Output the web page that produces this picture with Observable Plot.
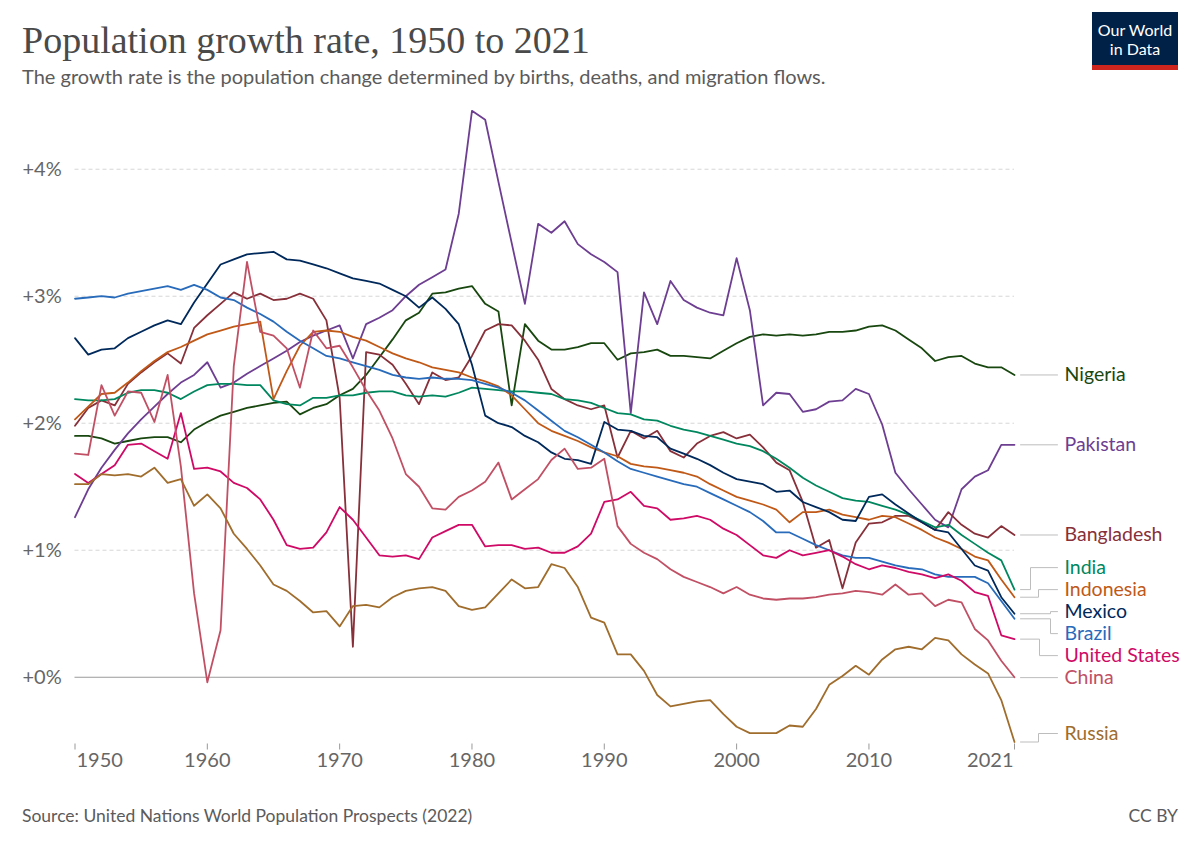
<!DOCTYPE html>
<html>
<head>
<meta charset="utf-8">
<script src="https://cdn.jsdelivr.net/npm/d3@7"></script>
<script src="https://cdn.jsdelivr.net/npm/@observablehq/plot@0.6"></script>
<style>
  html, body { margin: 0; padding: 0; background: #fff; }
  #page { position: relative; width: 1200px; height: 848px; overflow: hidden; font-family: Lato, "Noto Sans", sans-serif; }
  #header { position: relative; height: 100px; }
  #title { position: absolute; left: 22px; top: 21px; font-family: "Liberation Serif", serif; font-size: 38px; line-height: 38px; color: #4a4a4a; white-space: nowrap; }
  #subtitle { position: absolute; left: 22px; top: 66px; font-size: 20px; line-height: 20px; color: #5b5b5b; white-space: nowrap; }
  #logo { position: absolute; left: 1092px; top: 12px; width: 86px; height: 58px; box-sizing: border-box; background: #002147; border-bottom: 5px solid #ce261e; color: #fff; text-align: center; font-size: 16px; line-height: 19px; padding-top: 8px; }
  #chart { position: absolute; left: 0; top: 100px; }
  #footer { position: absolute; left: 22px; width: 1156px; top: 807px; display: flex; justify-content: space-between; font-size: 17.5px; line-height: 17.5px; color: #5b5b5b; }
</style>
</head>
<body>
<div id="page">
  <div id="header">
    <div id="title">Population growth rate, 1950 to 2021</div>
    <div id="subtitle">The growth rate is the population change determined by births, deaths, and migration flows.</div>
    <div id="logo"><div>Our World</div><div>in Data</div></div>
  </div>
  <div id="chart"></div>
  <div id="footer"><span>Source: United Nations World Population Prospects (2022)</span><span>CC BY</span></div>
</div>
<script>
// ---------- data (annual population growth rate, %) ----------
const years = d3.range(1950, 2022);
const countries = ["Nigeria", "Pakistan", "Bangladesh", "India", "Indonesia", "Mexico", "Brazil", "United States", "China", "Russia"];
const colors = ["#18470F", "#6D3E91", "#883039", "#00875E", "#C05917", "#00295B", "#286BBB", "#CF0A66", "#C15065", "#A06D2D"];

const nigeria = [
  1.90, 1.90, 1.88, 1.84, 1.86, 1.88, 1.89, 1.89, 1.85, 1.95,
  2.01, 2.06, 2.09, 2.12, 2.14, 2.16, 2.17, 2.07, 2.12, 2.15,
  2.22, 2.27, 2.38, 2.52, 2.66, 2.81, 2.87, 3.02, 3.03, 3.06,
  3.08, 2.94, 2.88, 2.14, 2.78, 2.65, 2.58, 2.58, 2.60, 2.63,
  2.63, 2.50, 2.55, 2.56, 2.58, 2.53, 2.53, 2.52, 2.51, 2.57,
  2.63, 2.68, 2.70, 2.69, 2.70, 2.69, 2.70, 2.72, 2.72, 2.73,
  2.76, 2.77, 2.73, 2.66, 2.59, 2.49, 2.52, 2.53, 2.47, 2.44,
  2.44, 2.38];
const pakistan = [
  1.26, 1.48, 1.65, 1.79, 1.92, 2.03, 2.13, 2.23, 2.32, 2.38,
  2.48, 2.28, 2.32, 2.39, 2.45, 2.51, 2.57, 2.64, 2.69, 2.73,
  2.77, 2.51, 2.78, 2.83, 2.89, 3.00, 3.09, 3.15, 3.21, 3.65,
  4.46, 4.39, 3.90, 3.42, 2.94, 3.57, 3.50, 3.59, 3.41, 3.33,
  3.27, 3.19, 2.08, 3.03, 2.78, 3.12, 2.97, 2.91, 2.87, 2.85,
  3.30, 2.89, 2.14, 2.24, 2.23, 2.09, 2.11, 2.17, 2.18, 2.27,
  2.23, 1.99, 1.61, 1.48, 1.36, 1.24, 1.18, 1.48, 1.58, 1.63,
  1.83, 1.83];
const bangladesh = [
  1.98, 2.12, 2.18, 2.14, 2.31, 2.40, 2.48, 2.55, 2.47, 2.75,
  2.85, 2.94, 3.03, 2.98, 3.02, 2.97, 2.98, 3.02, 2.98, 2.81,
  2.20, 0.24, 2.56, 2.54, 2.46, 2.31, 2.15, 2.40, 2.34, 2.36,
  2.53, 2.73, 2.78, 2.77, 2.65, 2.50, 2.27, 2.19, 2.14, 2.11,
  2.14, 1.73, 1.94, 1.88, 1.94, 1.78, 1.73, 1.84, 1.90, 1.93,
  1.88, 1.91, 1.81, 1.69, 1.63, 1.38, 1.02, 1.08, 0.70, 1.06,
  1.21, 1.22, 1.27, 1.27, 1.22, 1.16, 1.30, 1.20, 1.13, 1.10,
  1.19, 1.12];
const india = [
  2.19, 2.18, 2.18, 2.19, 2.24, 2.26, 2.26, 2.24, 2.19, 2.25,
  2.30, 2.31, 2.31, 2.30, 2.30, 2.18, 2.15, 2.14, 2.20, 2.20,
  2.22, 2.22, 2.24, 2.25, 2.25, 2.22, 2.21, 2.22, 2.21, 2.24,
  2.28, 2.27, 2.26, 2.25, 2.25, 2.24, 2.23, 2.19, 2.18, 2.16,
  2.12, 2.08, 2.07, 2.03, 2.02, 1.98, 1.95, 1.93, 1.90, 1.87,
  1.84, 1.82, 1.78, 1.72, 1.65, 1.57, 1.51, 1.46, 1.41, 1.39,
  1.38, 1.35, 1.32, 1.28, 1.23, 1.18, 1.20, 1.12, 1.05, 0.98,
  0.92, 0.69];
const indonesia = [
  2.03, 2.13, 2.23, 2.24, 2.32, 2.41, 2.49, 2.56, 2.60, 2.65,
  2.70, 2.73, 2.76, 2.78, 2.80, 2.19, 2.41, 2.61, 2.72, 2.73,
  2.72, 2.68, 2.65, 2.60, 2.55, 2.51, 2.48, 2.44, 2.42, 2.40,
  2.36, 2.33, 2.29, 2.22, 2.11, 2.00, 1.94, 1.90, 1.86, 1.81,
  1.77, 1.74, 1.68, 1.66, 1.65, 1.63, 1.61, 1.58, 1.52, 1.47,
  1.42, 1.39, 1.36, 1.32, 1.22, 1.30, 1.30, 1.32, 1.28, 1.26,
  1.24, 1.27, 1.26, 1.21, 1.16, 1.10, 1.06, 1.01, 0.95, 0.92,
  0.77, 0.63];
const mexico = [
  2.67, 2.54, 2.58, 2.59, 2.67, 2.72, 2.77, 2.81, 2.78, 2.95,
  3.10, 3.25, 3.29, 3.33, 3.34, 3.35, 3.29, 3.28, 3.25, 3.22,
  3.18, 3.14, 3.12, 3.10, 3.05, 3.00, 2.91, 2.99, 2.90, 2.78,
  2.46, 2.06, 2.00, 1.97, 1.90, 1.85, 1.77, 1.72, 1.71, 1.68,
  2.01, 1.95, 1.94, 1.90, 1.89, 1.80, 1.76, 1.72, 1.67, 1.61,
  1.56, 1.54, 1.52, 1.46, 1.47, 1.38, 1.34, 1.30, 1.24, 1.23,
  1.42, 1.44, 1.36, 1.29, 1.22, 1.16, 1.14, 1.01, 0.88, 0.84,
  0.63, 0.50];
const brazil = [
  2.98, 2.99, 3.00, 2.99, 3.02, 3.04, 3.06, 3.08, 3.05, 3.09,
  3.05, 2.99, 2.97, 2.91, 2.86, 2.80, 2.72, 2.65, 2.59, 2.53,
  2.51, 2.48, 2.45, 2.42, 2.38, 2.36, 2.35, 2.36, 2.35, 2.35,
  2.34, 2.31, 2.28, 2.24, 2.18, 2.10, 2.02, 1.94, 1.89, 1.83,
  1.77, 1.70, 1.64, 1.61, 1.58, 1.55, 1.52, 1.50, 1.45, 1.40,
  1.35, 1.30, 1.23, 1.14, 1.14, 1.09, 1.04, 1.00, 0.96, 0.94,
  0.94, 0.91, 0.88, 0.86, 0.85, 0.81, 0.79, 0.79, 0.79, 0.74,
  0.60, 0.46];
const unitedStates = [
  1.60, 1.53, 1.60, 1.67, 1.83, 1.84, 1.78, 1.72, 2.08, 1.64,
  1.65, 1.62, 1.53, 1.49, 1.40, 1.24, 1.04, 1.01, 1.02, 1.14,
  1.34, 1.24, 1.10, 0.96, 0.95, 0.96, 0.93, 1.10, 1.15, 1.20,
  1.20, 1.03, 1.04, 1.04, 1.01, 1.02, 0.98, 0.98, 1.03, 1.13,
  1.38, 1.40, 1.46, 1.35, 1.33, 1.24, 1.25, 1.27, 1.24, 1.17,
  1.12, 1.04, 0.96, 0.94, 1.00, 0.96, 0.98, 1.00, 0.95, 0.89,
  0.85, 0.88, 0.86, 0.83, 0.81, 0.78, 0.81, 0.76, 0.67, 0.64,
  0.33, 0.30];
const china = [
  1.76, 1.75, 2.30, 2.06, 2.25, 2.24, 2.01, 2.38, 1.66, 0.66,
  -0.04, 0.37, 2.45, 3.27, 2.72, 2.69, 2.59, 2.28, 2.73, 2.59,
  2.61, 2.44, 2.26, 2.10, 1.88, 1.60, 1.50, 1.33, 1.32, 1.42,
  1.47, 1.54, 1.69, 1.40, 1.48, 1.56, 1.71, 1.80, 1.64, 1.65,
  1.72, 1.19, 1.05, 0.98, 0.93, 0.85, 0.79, 0.75, 0.71, 0.66,
  0.71, 0.65, 0.62, 0.61, 0.62, 0.62, 0.63, 0.65, 0.66, 0.68,
  0.67, 0.65, 0.73, 0.65, 0.66, 0.56, 0.61, 0.59, 0.38, 0.29,
  0.13, 0.00];
const russia = [
  1.52, 1.52, 1.60, 1.59, 1.60, 1.58, 1.65, 1.53, 1.56, 1.35,
  1.44, 1.33, 1.13, 1.01, 0.88, 0.73, 0.68, 0.60, 0.51, 0.52,
  0.40, 0.56, 0.57, 0.55, 0.63, 0.68, 0.70, 0.71, 0.68, 0.56,
  0.53, 0.55, 0.66, 0.77, 0.70, 0.71, 0.89, 0.86, 0.71, 0.47,
  0.43, 0.18, 0.18, 0.05, -0.14, -0.23, -0.21, -0.19, -0.18, -0.29,
  -0.39, -0.44, -0.44, -0.44, -0.38, -0.39, -0.25, -0.06, 0.01, 0.09,
  0.02, 0.14, 0.22, 0.24, 0.22, 0.31, 0.29, 0.18, 0.10, 0.03,
  -0.18, -0.51];

const seriesValues = [nigeria, pakistan, bangladesh, india, indonesia, mexico, brazil, unitedStates, china, russia];
const yTicks = [0, 1, 2, 3, 4];
const xTicks = [1950, 1960, 1970, 1980, 1990, 2000, 2010, 2021];

// ---------- layout ----------
const W = 1200, H = 690;
const M = {top: 10.3, right: 186, bottom: 48.5, left: 74.5};
const LABEL_GAP = 22;
const knee = {"India": 1030, "Indonesia": 1038, "Mexico": 1050, "Brazil": 1050, "United States": 1039, "Russia": 1038};

const rows = countries.flatMap((c, i) => seriesValues[i].map((v, j) => ({country: c, year: years[j], value: v})));
const yExtent = d3.extent(rows, d => d.value);

const base = {
  width: W, height: H,
  marginTop: M.top, marginRight: M.right, marginBottom: M.bottom, marginLeft: M.left,
  x: {domain: [years[0], years[years.length - 1]], axis: null},
  y: {domain: yExtent, axis: null},
  color: {domain: countries, range: colors},
  style: {fontFamily: "Lato, 'Noto Sans', sans-serif", background: "transparent", overflow: "visible"}
};

// first pass: obtain the scales
const probe = Plot.plot({...base, marks: [Plot.line(rows, {x: "year", y: "value", z: "country", stroke: "country"})]});
const sx = probe.scale("x"), sy = probe.scale("y");
const xPx = d3.scaleLinear(sx.domain, sx.range);
const yPx = d3.scaleLinear(sy.domain, sy.range);

// end labels with collision avoidance (clusters centred on their data points)
const ends = countries.map((c, i) => ({country: c, value: seriesValues[i][seriesValues[i].length - 1]}));
ends.forEach(d => d.py = yPx(d.value));
ends.sort((a, b) => a.py - b.py);
let clusters = ends.map(d => ({items: [d], center: d.py}));
let merged = true;
while (merged) {
  merged = false;
  for (let i = 0; i < clusters.length - 1; i++) {
    const a = clusters[i], b = clusters[i + 1];
    const aBottom = a.center + (a.items.length - 1) * LABEL_GAP / 2;
    const bTop = b.center - (b.items.length - 1) * LABEL_GAP / 2;
    if (bTop - aBottom < LABEL_GAP) {
      const items = [...a.items, ...b.items];
      clusters.splice(i, 2, {items, center: d3.mean(items, d => d.py)});
      merged = true;
      break;
    }
  }
}
clusters.forEach(c => c.items.forEach((d, j) => d.ly = c.center + (j - (c.items.length - 1) / 2) * LABEL_GAP));
const maxLabelY = H - M.bottom - 8.5;
ends.forEach(d => d.ly = Math.min(d.ly, maxLabelY));
ends.forEach(d => d.labelValue = yPx.invert(d.ly));

// connectors
const connectors = ends.flatMap(d => {
  const x0 = 1020, x1 = 1057;
  const pts = Math.abs(d.ly - d.py) < 1
    ? [[x0, d.ly], [x1, d.ly]]
    : [[x0, d.py], [knee[d.country] ?? 1038, d.py], [knee[d.country] ?? 1038, d.ly], [x1, d.ly]];
  return pts.map(([px, py]) => ({country: d.country, x: xPx.invert(px), y: yPx.invert(py)}));
});

const axisBottom = H - M.bottom;
const plot = Plot.plot({
  ...base,
  marks: [
    Plot.ruleY(yTicks.filter(d => d !== 0), {y: d => d, stroke: "#d6d6d6", strokeDasharray: "4,3", strokeWidth: 1}),
    Plot.ruleY([0], {y: d => d, stroke: "#9a9a9a", strokeWidth: 1.2}),
    Plot.ruleX(xTicks, {x: d => d, y1: yPx.invert(axisBottom + 2), y2: yPx.invert(axisBottom + 8), stroke: "#999", strokeWidth: 1}),
    Plot.text(yTicks, {y: d => d, text: d => `+${d}%`, frameAnchor: "left", dx: -52.5, textAnchor: "start", fill: "#666", fontSize: 20}),
    Plot.text(xTicks.slice(0, 1), {x: d => d, text: d => String(d), frameAnchor: "bottom", dy: 24.5, dx: 1.5, textAnchor: "start", fill: "#666", fontSize: 20}),
    Plot.text(xTicks.slice(1, -1), {x: d => d, text: d => String(d), frameAnchor: "bottom", dy: 24.5, textAnchor: "middle", fill: "#666", fontSize: 20}),
    Plot.text(xTicks.slice(-1), {x: d => d, text: d => String(d), frameAnchor: "bottom", dy: 24.5, dx: -1, textAnchor: "end", fill: "#666", fontSize: 20}),
    Plot.line(rows, {x: "year", y: "value", z: "country", stroke: "country", strokeWidth: 1.8}),
    Plot.line(connectors, {x: "x", y: "y", z: "country", stroke: "#bdbdbd", strokeWidth: 1}),
    Plot.text(ends, {x: () => years[years.length - 1], y: "labelValue", text: "country", fill: "country", dx: 50, textAnchor: "start", fontSize: 19.5})
  ]
});
document.getElementById("chart").appendChild(plot);
</script>
</body>
</html>
